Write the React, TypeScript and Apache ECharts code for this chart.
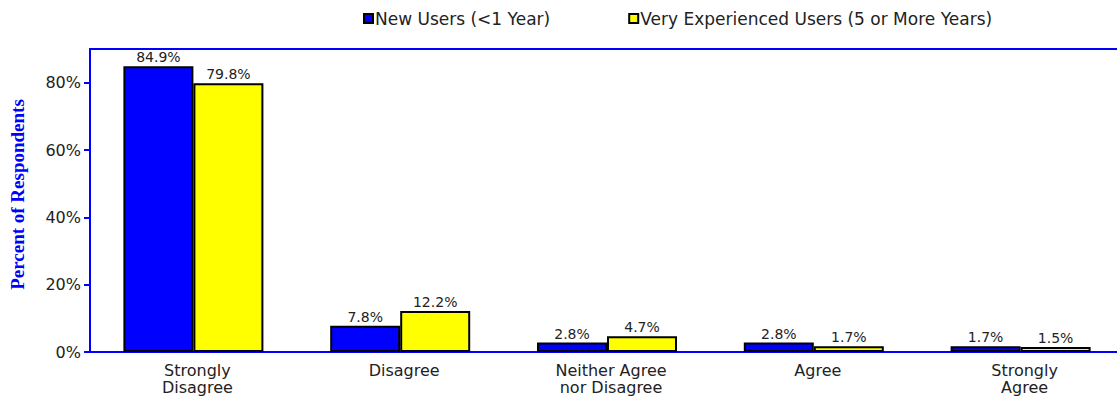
import React, { useEffect, useRef } from "react";
import * as echarts from "echarts";

const categories = ["Strongly\nDisagree", "Disagree", "Neither Agree\nnor Disagree", "Agree", "Strongly\nAgree"];
const newUsers = [84.9, 7.8, 2.8, 2.8, 1.7];
const experiencedUsers = [79.8, 12.2, 4.7, 1.7, 1.5];
const yTicks = [0, 20, 40, 60, 80];
const seriesNames = ["New Users (<1 Year)", "Very Experienced Users (5 or More Years)"];

const FONT = "DejaVu Sans";

export default function App() {
  const ref = useRef<HTMLDivElement>(null);
  useEffect(() => {
    if (!ref.current) return;
    const chart = echarts.init(ref.current, null, { renderer: "svg" });
    const labelStyle = {
      show: true,
      position: "top" as const,
      distance: 2,
      color: "#222",
      fontFamily: FONT,
      fontSize: 14,
      formatter: (p: any) => `${p.value}%`,
    };
    chart.setOption({
      animation: false,
      backgroundColor: "#fff",
      legend: {
        left: 358,
        top: 5,
        itemWidth: 9,
        itemHeight: 9,
        itemGap: 78,
        icon: "rect",
        textStyle: { fontFamily: FONT, fontSize: 17, color: "#222", padding: [0, 0, 0, -3] },
        data: seriesNames,
      },
      grid: {
        left: 84,
        right: 11,
        top: 49,
        bottom: 58,
        show: true,
        borderColor: "#0000ff",
        borderWidth: 2,
        containLabel: false,
      },
      xAxis: {
        type: "category",
        data: categories,
        axisLine: { lineStyle: { color: "#0000ff", width: 2 } },
        axisTick: { show: false },
        axisLabel: {
          color: "#222",
          fontFamily: FONT,
          fontSize: 16,
          lineHeight: 17,
          margin: 10,
          padding: [0, 0, 0, 8],
        },
      },
      yAxis: {
        type: "value",
        min: 0,
        max: 90,
        interval: 20,
        name: "Percent of Respondents",
        nameLocation: "middle",
        nameGap: 63,
        nameTextStyle: {
          color: "#0000ff",
          fontFamily: "Liberation Serif",
          fontWeight: "bold",
          fontSize: 19,
          padding: [0, 0, 0, 12],
        },
        splitLine: { show: false },
        axisLine: { show: true, lineStyle: { color: "#0000ff", width: 2 } },
        axisTick: { show: true, length: 6, customValues: yTicks, lineStyle: { color: "#0000ff", width: 2 } },
        axisLabel: {
          color: "#222",
          fontFamily: FONT,
          fontSize: 16,
          margin: 9,
          customValues: yTicks,
          formatter: (v: number) => `${v}%`,
        },
      },
      series: [
        {
          name: seriesNames[0],
          type: "bar",
          data: newUsers,
          barWidth: 70,
          barGap: "0%",
          itemStyle: { color: "#0000ff", borderColor: "#000", borderWidth: 2 },
          label: labelStyle,
        },
        {
          name: seriesNames[1],
          type: "bar",
          data: experiencedUsers,
          barWidth: 70,
          itemStyle: { color: "#ffff00", borderColor: "#000", borderWidth: 2 },
          label: labelStyle,
        },
      ],
    });
    return () => chart.dispose();
  }, []);
  return (
    <div style={{ position: "absolute", left: 0, top: 0, width: 1117, height: 410, overflow: "hidden", background: "#fff" }}>
      <div ref={ref} style={{ width: 1135, height: 410 }} />
    </div>
  );
}
